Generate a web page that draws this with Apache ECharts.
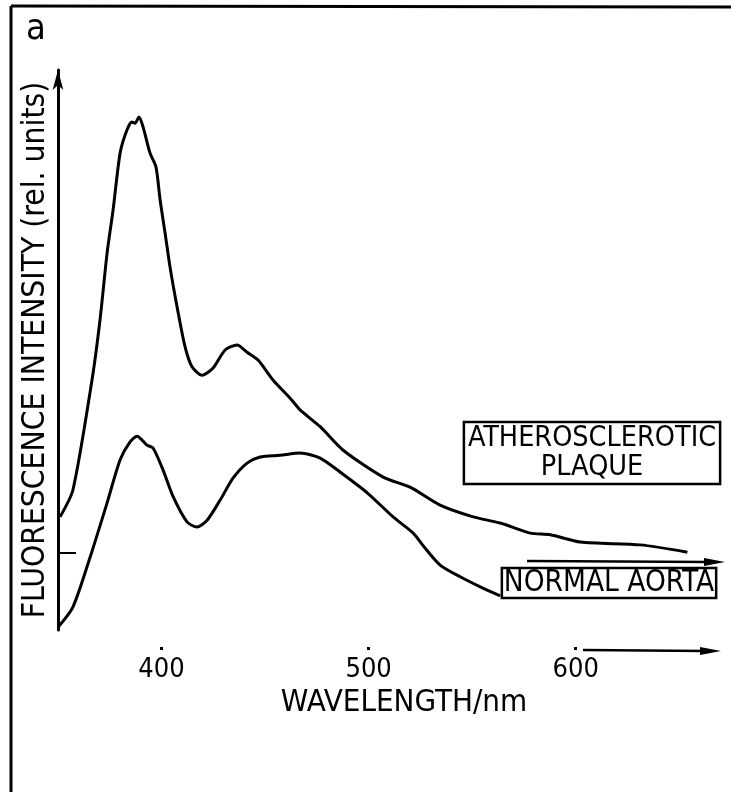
<!DOCTYPE html>
<html>
<head>
<meta charset="utf-8">
<script src="https://cdn.jsdelivr.net/npm/echarts@6/dist/echarts.min.js"></script>
<style>
  html, body { margin: 0; padding: 0; background: #fff; }
  #chart { width: 731px; height: 792px; }
</style>
</head>
<body>
<div id="chart"></div>
<script>
// wavelength (nm) / fluorescence intensity (rel. units)
const plaqueWave = [351, 357.2, 366.4, 370.3, 373.7, 376.6, 380, 383.3, 385.7, 387.2, 389.1, 391.1,
  394.4, 397.3, 399.3, 401.7, 404.1, 407.5, 411.4, 414.7, 419.6, 424.9, 430.7, 436.5, 441.3,
  446.6, 453.9, 462.1, 466.9, 476.6, 487.7, 507, 520, 534.5, 550.5, 563.5, 578, 587.7, 602.2,
  631.2, 653.9];
const plaqueVal = [20.2, 25, 44.6, 55.4, 67.3, 75, 85.2, 89.3, 90.7, 90.5, 91.6, 89.8,
  85.2, 82.7, 76.8, 70.9, 64.8, 57.7, 50.5, 47, 45.5, 46.8, 50, 50.9, 49.6,
  48.2, 44.6, 41.4, 39.3, 36.3, 32.1, 27.3, 25.5, 22.3, 20.2, 19.1, 17.3, 17, 15.7,
  15.2, 13.9];

const normalWave = [350, 357.2, 365.5, 373.7, 380, 384.8, 388.2, 393, 395.9, 400.7, 405.6, 412.3,
  417.1, 422, 428.3, 434.5, 441.3, 447.6, 457.2, 466.9, 476.6, 486.2, 499.3, 511.8, 521.5,
  527.3, 534.5, 544.2, 553.9, 563.5];
const normalVal = [0.5, 4.1, 13, 22.7, 30.4, 33.6, 34.6, 33, 32.5, 28.6, 23.8, 19.3,
  18.4, 19.6, 23.2, 27.1, 29.8, 30.9, 31.2, 31.6, 30.7, 28.2, 24.5, 20.2, 17.3,
  14.6, 11.6, 9.5, 7.7, 6.1];

const xTickValues = [400, 500, 600];
const yTickValues = [13.75];

const FONT = "'DejaVu Sans Condensed', 'DejaVu Sans', sans-serif";

function pairs(xs, ys) {
  return xs.map((x, i) => [x, ys[i]]);
}

const chart = echarts.init(document.getElementById('chart'), null, { renderer: 'canvas' });

const option = {
  backgroundColor: '#fff',
  animation: false,
  grid: { left: 58, right: 31, top: 70, bottom: 162 },
  xAxis: {
    type: 'value',
    min: 350,
    max: 660,
    name: 'WAVELENGTH/nm',
    nameLocation: 'middle',
    nameGap: 52,
    nameTextStyle: { fontFamily: FONT, fontSize: 31, color: '#000', padding: [0, 0, 0, 50] },
    axisLine: { show: false },
    // tick drawn only at its far end, so it shows as the little dot above each label
    axisTick: {
      show: true, length: 21, customValues: xTickValues,
      lineStyle: { color: '#000', width: 3, type: [0, 17, 3, 100] }
    },
    axisLabel: { fontFamily: FONT, fontSize: 27, color: '#000', margin: 26, customValues: xTickValues },
    splitLine: { show: false }
  },
  yAxis: {
    type: 'value',
    min: 0,
    max: 100,
    name: 'FLUORESCENCE INTENSITY (rel. units)',
    nameLocation: 'middle',
    nameRotate: 90,
    nameGap: 6,
    nameTextStyle: { fontFamily: FONT, fontSize: 31.5, color: '#000' },
    axisLine: {
      show: true,
      symbol: ['none', 'arrow'],
      symbolSize: [8, 20],
      lineStyle: { color: '#000', width: 3 }
    },
    axisTick: { show: true, inside: true, length: 18, lineStyle: { color: '#000', width: 2 }, customValues: yTickValues },
    axisLabel: { show: false },
    splitLine: { show: false }
  },
  series: [
    {
      name: 'ATHEROSCLEROTIC PLAQUE',
      type: 'line',
      data: pairs(plaqueWave, plaqueVal),
      showSymbol: false,
      smooth: 0.25,
      lineStyle: { color: '#000', width: 3 }
    },
    {
      name: 'NORMAL AORTA',
      type: 'line',
      data: pairs(normalWave, normalVal),
      showSymbol: false,
      smooth: 0.25,
      lineStyle: { color: '#000', width: 3 }
    }
  ],
  graphic: [
    // frame (left and top edges of the scanned panel)
    { type: 'line', shape: { x1: 11, y1: 6, x2: 11, y2: 792 }, style: { stroke: '#000', lineWidth: 3 } },
    { type: 'line', shape: { x1: 11, y1: 6, x2: 731, y2: 7 }, style: { stroke: '#000', lineWidth: 3 } },
    // panel letter
    { type: 'text', x: 26, y: 12, style: { text: 'a', font: '36px ' + FONT, fill: '#000' } },
    // legend boxes
    {
      type: 'text', x: 592, y: 422,
      style: {
        text: 'ATHEROSCLEROTIC\nPLAQUE', font: '28.5px ' + FONT, fill: '#000',
        align: 'center', verticalAlign: 'top', lineHeight: 29,
        padding: [2, 4, 2, 4], borderColor: '#000', borderWidth: 2.5
      }
    },
    {
      type: 'text', x: 609, y: 568,
      style: {
        text: 'NORMAL AORTA', font: '29.5px ' + FONT, fill: '#000',
        align: 'center', verticalAlign: 'top', lineHeight: 30,
        padding: [0, 2, 0, 2], borderColor: '#000', borderWidth: 2.5
      }
    },
    // arrows
    { type: 'line', shape: { x1: 527, y1: 561, x2: 710, y2: 562 }, style: { stroke: '#000', lineWidth: 2.5 } },
    { type: 'polygon', shape: { points: [[704, 558], [725, 562], [704, 566]] }, style: { fill: '#000' } },
    { type: 'line', shape: { x1: 583, y1: 650, x2: 706, y2: 651 }, style: { stroke: '#000', lineWidth: 2.5 } },
    { type: 'polygon', shape: { points: [[700, 647], [721, 651], [700, 655]] }, style: { fill: '#000' } }
  ]
};

chart.setOption(option);
</script>
</body>
</html>
